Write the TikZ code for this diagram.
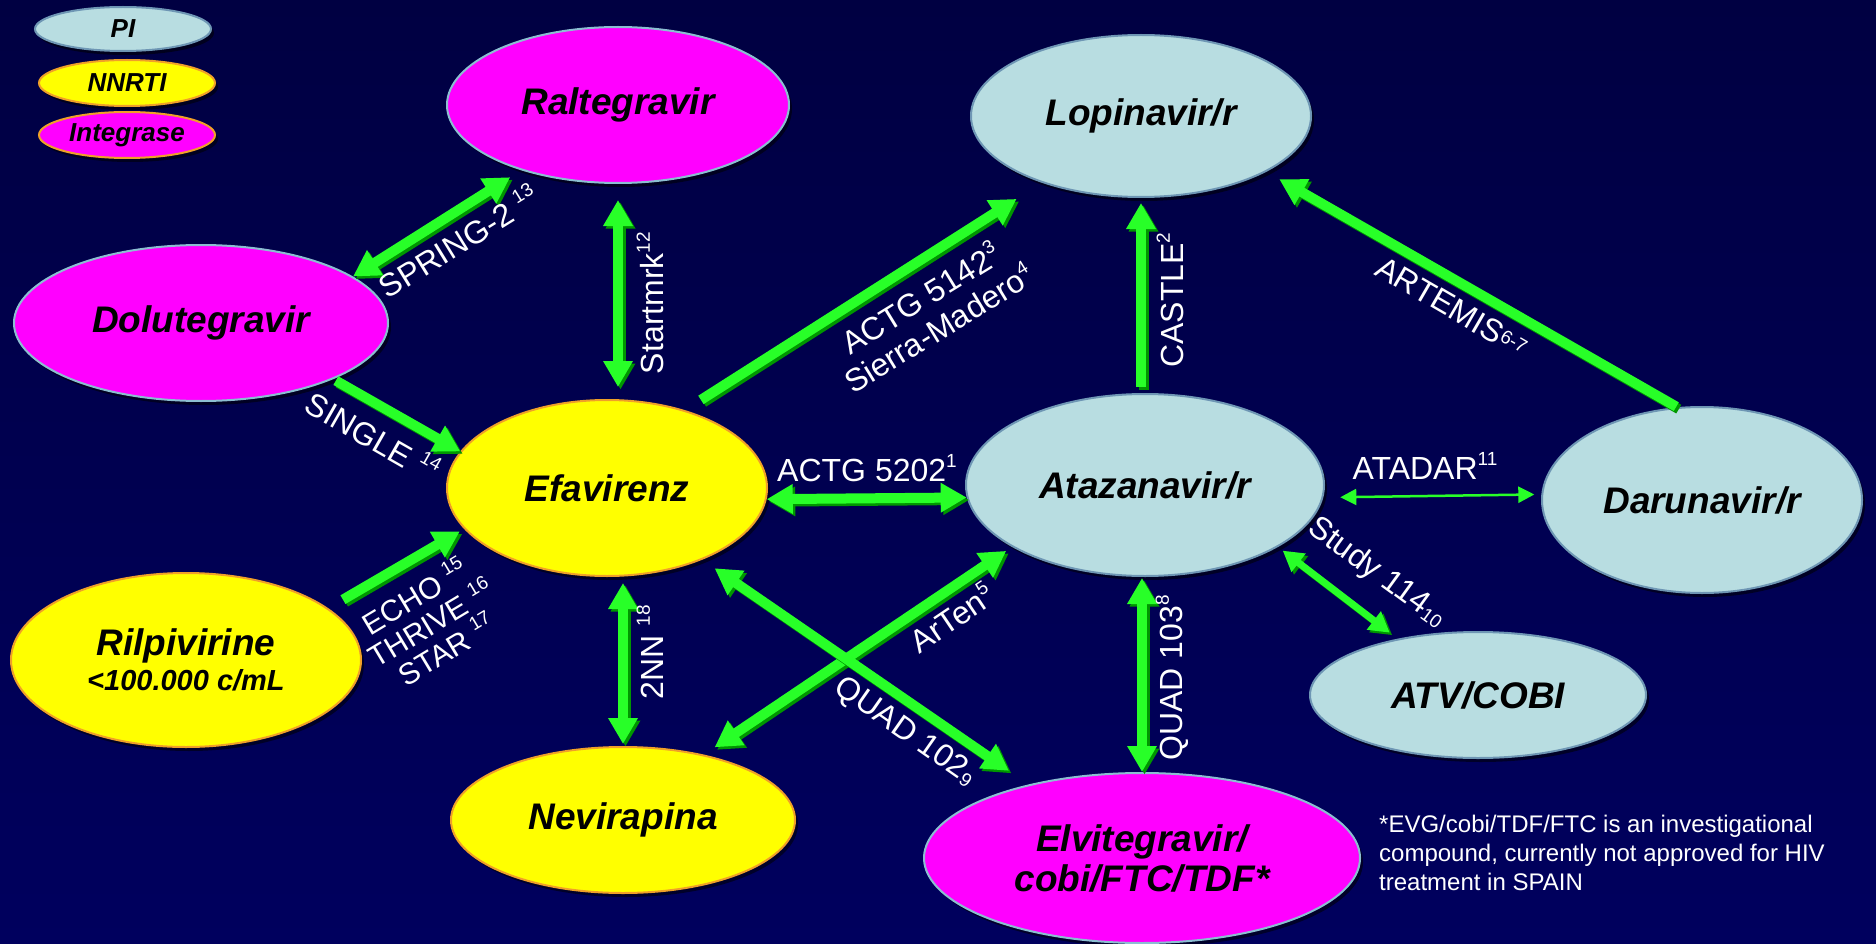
\documentclass[tikz,border=0pt]{standalone}
\usepackage{fontspec}
\setmainfont{Liberation Sans}
\usetikzlibrary{arrows.meta,shadows,shapes.geometric}
\definecolor{bgtop}{RGB}{0,0,66}
\definecolor{bgbot}{RGB}{0,0,94}
\definecolor{piFill}{RGB}{184,221,225}
\definecolor{piLine}{RGB}{110,150,180}
\definecolor{nnFill}{RGB}{255,255,0}
\definecolor{nnLine}{RGB}{240,160,40}
\definecolor{inFill}{RGB}{255,0,255}
\definecolor{inLine}{RGB}{140,190,210}
\definecolor{arrG}{RGB}{40,255,40}
\definecolor{arrD}{RGB}{0,150,0}
\newcommand\supx[1]{\raisebox{0.42em}{\fontsize{19}{19}\selectfont #1}}
\newcommand\subx[1]{\raisebox{-0.1em}{\fontsize{19}{19}\selectfont #1}}
\newcommand\midx[1]{\raisebox{0.18em}{\fontsize{19}{19}\selectfont #1}}
\newcommand\garrow[3]{%
  \begin{scope}[transform canvas={shift={(2.5pt,-2.5pt)}}]
    \draw[#1,draw=arrD,fill=arrD] (#2) -- (#3);
  \end{scope}
  \draw[#1] (#2) -- (#3);}
\tikzset{
  drug/.style={ellipse, inner sep=0pt, line width=2pt, align=center,
    font=\fontsize{37}{42}\selectfont\bfseries\itshape,
    drop shadow={shadow xshift=3pt, shadow yshift=-4pt, fill=black, opacity=0.55}},
  pinode/.style={drug, fill=piFill, draw=piLine},
  nnnode/.style={drug, fill=nnFill, draw=nnLine},
  ignode/.style={drug, fill=inFill, draw=inLine},
  legendnode/.style={font=\fontsize{26}{30}\selectfont\bfseries\itshape},
  lab/.style={text=white, font=\fontsize{32}{35}\selectfont, inner sep=0pt, align=center},
  bigline/.style={line width=10pt, draw=arrG, fill=arrG},
  b2/.style={bigline, {Triangle[width=28pt,length=26pt]}-{Triangle[width=28pt,length=26pt]}},
  b1/.style={bigline, -{Triangle[width=28pt,length=26pt]}},
  m2/.style={line width=7pt, draw=arrG, fill=arrG, {Triangle[width=22pt,length=20pt]}-{Triangle[width=22pt,length=20pt]}},
  thinarrow/.style={line width=2.5pt, draw=arrG, fill=arrG, {Triangle[width=16pt,length=16pt]}-{Triangle[width=16pt,length=16pt]}}
}
\begin{document}
\begin{tikzpicture}[x=1pt,y=-1pt]
\useasboundingbox (0,0) rectangle (1876,944);
\shade[top color=bgtop, bottom color=bgbot] (0,0) rectangle (1876,944);

% legend
\node[pinode, legendnode, minimum width=176pt, minimum height=44pt] (lpi) at (123,29) {PI};
\node[nnnode, legendnode, minimum width=176pt, minimum height=46pt] (lnn) at (127,83) {NNRTI};
\node[ignode, legendnode, draw=nnLine, minimum width=176pt, minimum height=46pt] (lig) at (127,135) {Integrase};

% drugs
\node[ignode, minimum width=342pt, minimum height=156pt] (ral) at (618,105) {Raltegravir};
\node[pinode, minimum width=340pt, minimum height=162pt] (lop) at (1141,116) {Lopinavir/r};
\node[ignode, minimum width=374pt, minimum height=156pt] (dol) at (201,323) {Dolutegravir};
\node[nnnode, minimum width=320pt, minimum height=176pt] (efa) at (607,488) {Efavirenz};
\node[pinode, minimum width=358pt, minimum height=182pt] (ata) at (1145,485) {Atazanavir/r};
\node[pinode, minimum width=320pt, minimum height=186pt] (dar) at (1702,500) {Darunavir/r};
\node[pinode, minimum width=336pt, minimum height=126pt] (atv) at (1478,695) {ATV/COBI};
\node[nnnode, minimum width=350pt, minimum height=174pt] (ril) at (186,660) {Rilpivirine\\[-7pt]{\fontsize{29}{34}\selectfont <100.000 c/mL}};
\node[nnnode, minimum width=344pt, minimum height=146pt] (nev) at (623,820) {Nevirapina};
\node[ignode, minimum width=436pt, minimum height=170pt] (elv) at (1142,858) {Elvitegravir/\\[-2pt]cobi/FTC/TDF*};

% arrows
\garrow{b2, shorten >=13pt}{dol.17}{ral.214}
\garrow{b2, shorten <=16pt, shorten >=12pt}{ral.south}{ral.south |- efa.north}
\garrow{b1, shorten <=3pt}{dol.-23}{efa.166}
\garrow{b1, shorten <=19pt, shorten >=30pt}{efa.45}{lop.214}
\garrow{b1, shorten <=6pt, shorten >=5pt}{lop.south |- ata.north}{lop.south}
\garrow{b2}{efa.-4}{ata.184}
\garrow{b1, shorten <=1pt, shorten >=15pt}{dar.105}{lop.-24}
\draw[thinarrow, shorten <=17pt, shorten >=7pt] (ata.-4) -- (dar.178);
\garrow{m2, shorten <=6pt, shorten >=10pt}{ata.-25}{atv.145}
\garrow{b2, shorten <=6pt, shorten >=2pt}{nev.north |- efa.south}{nev.north}
\garrow{b1, shorten <=17pt, shorten >=5pt}{ril.20}{efa.196}
\garrow{b2, shorten <=13pt, shorten >=7pt}{nev.39}{ata.205}
\garrow{b2, shorten <=15pt, shorten >=24pt}{efa.-37}{elv.147}
\garrow{b2, shorten <=1pt}{elv.north |- ata.south}{elv.north}

% labels
\node[lab, rotate=31.7] (l1) at (458,241) {SPRING-2 \supx{13}};
\node[lab, rotate=90] (l2) at (650,303) {Startmrk\supx{12}};
\node[lab, rotate=-29.7] (l3) at (373,436) {SINGLE \supx{14}};
\node[lab, rotate=31.5] (l4) at (929,312) {ACTG 5142\supx{3}\\Sierra-Madero\supx{4}};
\node[lab, rotate=90] (l5) at (1170,300) {CASTLE\supx{2}};
\node[lab] (l6) at (867,468) {ACTG 5202\supx{1}};
\node[lab, rotate=-30.1] (l7) at (1452,307) {ARTEMIS\midx{6-7}};
\node[lab] (l8) at (1425,466) {ATADAR\supx{11}};
\node[lab, rotate=-36] (l9) at (1377,573) {Study 114\subx{10}};
\node[lab, rotate=90] (l10) at (650,652) {2NN \supx{18}};
\node[lab, rotate=31, font=\fontsize{30}{31}\selectfont] (l11) at (430,622) {ECHO \supx{15}\\THRIVE \supx{16}\\STAR \supx{17}};
\node[lab, rotate=34] (l12) at (951,617) {ArTen\supx{5}};
\node[lab, rotate=-35] (l13) at (905,732) {QUAD 102\subx{9}};
\node[lab, rotate=90] (l14) at (1172,678) {QUAD 103\supx{8}};

% footnote
\node[text=white, font=\fontsize{24}{29}\selectfont, align=left, anchor=north west, inner sep=0pt] (fn) at (1379,815)
  {*EVG/cobi/TDF/FTC is an investigational\\compound, currently not approved for HIV\\treatment in SPAIN};
\end{tikzpicture}
\end{document}
